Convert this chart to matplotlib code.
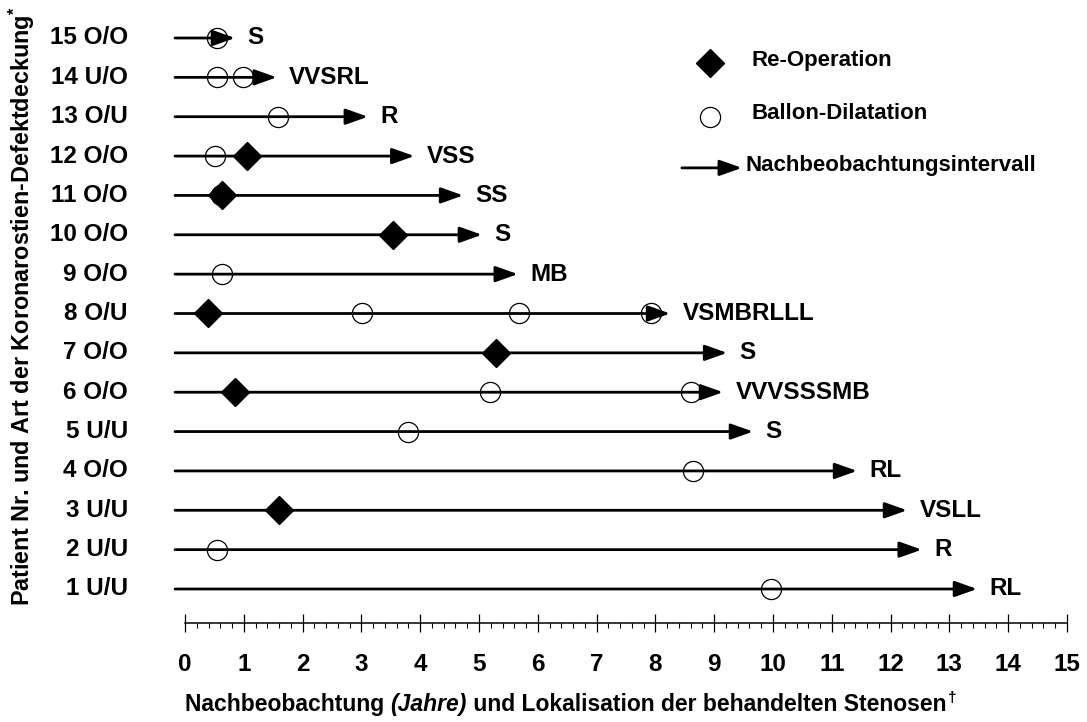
import numpy as np
import matplotlib
matplotlib.use('Agg')
from matplotlib import pyplot as plt
from matplotlib.ticker import MultipleLocator

plt.rcParams['font.family'] = ['Liberation Sans', 'DejaVu Sans']
plt.rcParams['font.weight'] = 'bold'
plt.rcParams['mathtext.fontset'] = 'custom'
plt.rcParams['mathtext.rm'] = 'Liberation Sans:bold'
plt.rcParams['mathtext.bf'] = 'Liberation Sans:bold'

# patient 1..15
patients = ['1 U/U', '2 U/U', '3 U/U', '4 O/O', '5 U/U', '6 O/O', '7 O/O', '8 O/U',
            '9 O/O', '10 O/O', '11 O/O', '12 O/O', '13 O/U', '14 U/O', '15 O/O']
followup = [13.47, 12.53, 12.28, 11.43, 9.66, 9.15, 9.22, 8.25,
            5.66, 5.05, 4.73, 3.9, 3.11, 1.56, 0.85]
stenoses = ['RL', 'R', 'VSLL', 'RL', 'S', 'VVVSSSMB', 'S', 'VSMBRLLL',
            'MB', 'S', 'SS', 'VSS', 'R', 'VVSRL', 'S']
reop = [[], [], [1.6], [], [], [0.85], [5.29], [0.39],
        [], [3.54], [0.63], [1.05], [], [], []]
dilat = [[9.97], [0.54], [], [8.64], [3.8], [5.19, 8.6], [], [3.01, 5.68, 7.92],
         [0.63], [], [0.61], [0.51], [1.58], [0.54, 0.98], [0.54]]
start = -0.17

W, H = 1087, 722
fig = plt.figure(figsize=(W / 100, H / 100), dpi=100)
ax = fig.add_axes([185 / W, (H - 623) / H, (1067 - 185) / W, (623 - 38) / H])
ax.set_xlim(0, 15)
ax.set_ylim(0.136, 15)

arrow_kw = dict(arrowstyle='-|>,head_length=0.45,head_width=0.16', mutation_scale=30,
                lw=2.0, color='black', shrinkA=0, shrinkB=0)

for i, name in enumerate(patients):
    y = i + 1
    # dilatations drawn first (behind)
    for d in dilat[i]:
        ax.plot(d, y, 'o', ms=14.5, mfc='none', mec='black', mew=0.9, zorder=2, clip_on=False)
    ax.annotate('', xy=(followup[i], y), xytext=(start, y), arrowprops=arrow_kw,
                annotation_clip=False, zorder=3)
    for r in reop[i]:
        ax.plot(r, y, 'D', ms=14, color='black', zorder=4, clip_on=False)
    ax.annotate(stenoses[i], xy=(followup[i], y), xytext=(9, 0), textcoords='offset points',
                ha='left', va='center', fontsize=17.5, fontweight='bold', annotation_clip=False)
    ax.text(-0.97, y, name, ha='right', va='center', fontsize=17.5, fontweight='bold')

# legend
ax.plot(8.93, 14.36, 'D', ms=14, color='black', clip_on=False)
ax.text(9.64, 14.42, 'Re-Operation', ha='left', va='center', fontsize=16)
ax.plot(8.93, 12.99, 'o', ms=14.5, mfc='none', mec='black', mew=0.9, clip_on=False)
ax.text(9.64, 13.08, 'Ballon-Dilatation', ha='left', va='center', fontsize=16)
ax.annotate('', xy=(9.47, 11.70), xytext=(8.45, 11.70), arrowprops=arrow_kw, annotation_clip=False)
ax.text(9.54, 11.76, 'Nachbeobachtungsintervall', ha='left', va='center', fontsize=16)

# axis
for s in ['top', 'right', 'left']:
    ax.spines[s].set_visible(False)
ax.spines['bottom'].set_bounds(0, 15)
ax.spines['bottom'].set_linewidth(1.1)
ax.set_yticks([])
ax.set_xticks(np.arange(0, 16))
ax.xaxis.set_minor_locator(MultipleLocator(0.2))
ax.tick_params(axis='x', which='major', direction='inout', length=13, width=0.9,
               labelsize=17.5, pad=15)
ax.tick_params(axis='x', which='minor', direction='out', length=3.5, width=0.8)
for lab in ax.get_xticklabels():
    lab.set_fontweight('bold')

# x label in pieces (italic part, superscript dagger)
renderer = fig.canvas.get_renderer()
xpix = 185
ybase = H - 711
for piece, style in [('Nachbeobachtung ', 'normal'), ('(Jahre)', 'italic'),
                     (' und Lokalisation der behandelten Stenosen', 'normal')]:
    t = fig.text(xpix / W, ybase / H, piece, ha='left', va='baseline', fontsize=16.5,
                 fontweight='bold', fontstyle=style)
    xpix = t.get_window_extent(renderer).x1
fig.text((xpix + 1) / W, (ybase + 9) / H, '\u2020', ha='left', va='baseline', fontsize=11,
         fontweight='bold')

fig.text(22 / W, 1 - 306 / H,
         r'Patient Nr. und Art der Koronarostien-Defektdeckung$^{*}$',
         ha='center', va='center', rotation=90, fontsize=16.8, fontweight='bold')

fig.savefig('out.png', dpi=100)
